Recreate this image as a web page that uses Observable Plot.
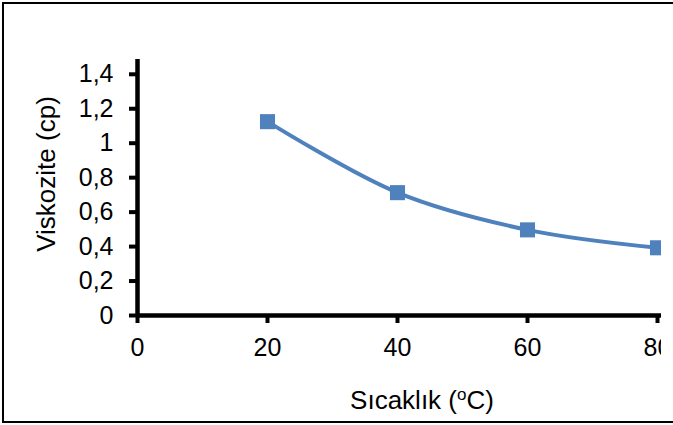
<!DOCTYPE html>
<html>
<head>
<meta charset="utf-8">
<script src="https://cdn.jsdelivr.net/npm/d3@7"></script>
<script src="https://cdn.jsdelivr.net/npm/@observablehq/plot@0.6"></script>
<style>
  html, body { margin: 0; padding: 0; background: white; overflow: hidden; }
  #wrap { position: absolute; left: 0; top: 0; width: 673px; height: 425px; }
  #chart { position: absolute; left: 0; top: 0; }
  #frame { position: absolute; left: 2px; top: 2px; width: 700px; height: 421px; box-sizing: border-box; border: 2px solid #000; pointer-events: none; }
</style>
</head>
<body>
<div id="wrap">
  <div id="chart"></div>
  <div id="frame"></div>
</div>
<script>
const temperatures = [20, 40, 60, 80];
const viscosities = [1.125, 0.713, 0.497, 0.393];
const xTicks = [0, 20, 40, 60, 80];
const yTicks = [0, 0.2, 0.4, 0.6, 0.8, 1, 1.2, 1.4];
const xTitle = "Sıcaklık (";
const xTitleSup = "o";
const xTitleEnd = "C)";
const yTitle = "Viskozite (cp)";

const data = temperatures.map((t, i) => ({ t, v: viscosities[i] }));
const color = "#4F81BD";
const fmt = d => String(+d.toFixed(1)).replace(".", ",");

const svg = Plot.plot({
  width: 661,
  height: 425,
  marginLeft: 137,
  marginRight: 4,
  marginTop: 60,
  marginBottom: 110,
  style: { background: "transparent", fontFamily: "'Liberation Sans', Arial, sans-serif", fontSize: "25px", color: "#000" },
  x: { domain: [0, 80], axis: null },
  y: { domain: [0, 1.48], axis: null },
  marks: [
    Plot.axisX(xTicks, { tickSize: 8, tickPadding: 15, strokeWidth: 4, tickFormat: d => String(d), label: null }),
    Plot.axisY(yTicks, { tickSize: 8, tickPadding: 16, strokeWidth: 4, tickFormat: fmt, label: null }),
    Plot.ruleY([0], { stroke: "#000", strokeWidth: 4.5, insetRight: -4 }),
    Plot.ruleX([0], { stroke: "#000", strokeWidth: 4.5, insetBottom: -2, insetTop: -1 }),
    Plot.line(data, { x: "t", y: "v", curve: "catmull-rom", stroke: color, strokeWidth: 4 }),
    Plot.dot(data, { x: "t", y: "v", symbol: "square", r: 8.5, fill: color, stroke: "none" })
  ]
});

const s = d3.select(svg);
const xt = s.append("text")
  .attr("x", 422).attr("y", 409)
  .attr("text-anchor", "middle")
  .attr("font-size", 26)
  .attr("fill", "#000");
xt.append("tspan").text(xTitle);
xt.append("tspan").attr("font-size", 17).attr("dy", -9).text(xTitleSup);
xt.append("tspan").attr("dy", 9).text(xTitleEnd);

s.append("text")
  .attr("transform", "translate(55,174) rotate(-90)")
  .attr("text-anchor", "middle")
  .attr("font-size", 26)
  .attr("fill", "#000")
  .text(yTitle);

document.getElementById("chart").appendChild(svg);
</script>
</body>
</html>
